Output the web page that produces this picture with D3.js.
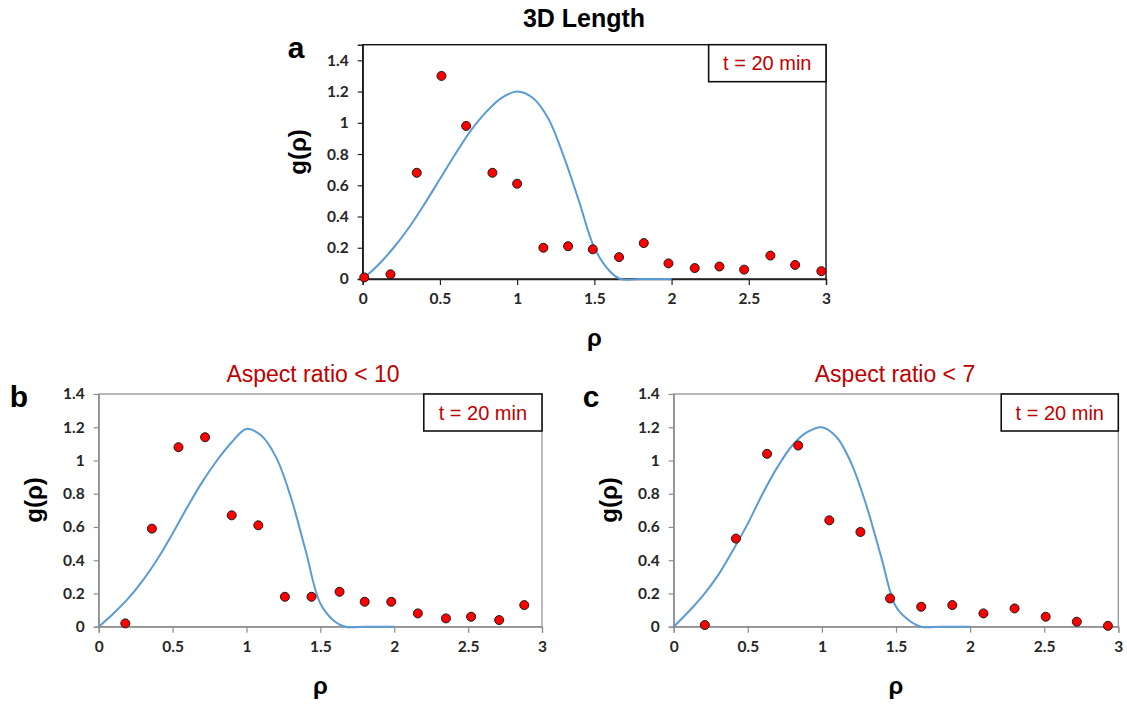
<!DOCTYPE html>
<html>
<head>
<meta charset="utf-8">
<script src="https://cdn.jsdelivr.net/npm/d3@7/dist/d3.min.js"></script>
<style>
  body { margin: 0; background: #fff; }
</style>
</head>
<body>
<svg id="chart" width="1127" height="706"></svg>
<script>
// axis ticks
var xTicks = [0, 0.5, 1, 1.5, 2, 2.5, 3];
var xTickLabels = ["0", "0.5", "1", "1.5", "2", "2.5", "3"];
var yTicks = [0, 0.2, 0.4, 0.6, 0.8, 1, 1.2, 1.4];
var yTickLabels = ["0", "0.2", "0.4", "0.6", "0.8", "1", "1.2", "1.4"];

// measured points, panel a (3D length)
var rhoA = [0.01, 0.18, 0.35, 0.51, 0.67, 0.84, 1.00, 1.17, 1.33, 1.49, 1.66, 1.82, 1.98, 2.15, 2.31, 2.47, 2.64, 2.80, 2.97];
var gA   = [0.01, 0.03, 0.68, 1.30, 0.98, 0.68, 0.61, 0.20, 0.21, 0.19, 0.14, 0.23, 0.10, 0.07, 0.08, 0.06, 0.15, 0.09, 0.05];
// panel b (aspect ratio < 10)
var rhoB = [0.18, 0.36, 0.54, 0.72, 0.90, 1.08, 1.26, 1.44, 1.63, 1.80, 1.98, 2.16, 2.35, 2.52, 2.71, 2.88];
var gB   = [0.02, 0.59, 1.08, 1.14, 0.67, 0.61, 0.18, 0.18, 0.21, 0.15, 0.15, 0.08, 0.05, 0.06, 0.04, 0.13];
// panel c (aspect ratio < 7)
var rhoC = [0.21, 0.42, 0.63, 0.84, 1.05, 1.26, 1.46, 1.67, 1.88, 2.09, 2.30, 2.51, 2.72, 2.93];
var gC   = [0.01, 0.53, 1.04, 1.09, 0.64, 0.57, 0.17, 0.12, 0.13, 0.08, 0.11, 0.06, 0.03, 0.005];

// reference curve
var curveRho = [0, 0.1, 0.2, 0.3, 0.4, 0.5, 0.6, 0.7, 0.8, 0.9, 1.0, 1.1, 1.2, 1.3, 1.4, 1.5, 1.6, 1.67, 1.8, 1.9, 2.0];
var curveA = [0, 0.09, 0.20, 0.33, 0.48, 0.64, 0.80, 0.95, 1.07, 1.16, 1.20, 1.16, 1.03, 0.79, 0.50, 0.20, 0.05, 0, 0, 0, 0];
var curveB = [0, 0.08, 0.17, 0.28, 0.41, 0.56, 0.72, 0.87, 1.00, 1.11, 1.19, 1.15, 1.02, 0.78, 0.46, 0.14, 0.03, 0, 0, 0, 0];
var curveC = [0, 0.09, 0.19, 0.31, 0.46, 0.62, 0.80, 0.96, 1.09, 1.17, 1.20, 1.14, 0.98, 0.73, 0.42, 0.12, 0.03, 0, 0, 0, 0];

var svg = d3.select("#chart");
svg.append("rect").attr("width", 1127).attr("height", 706).attr("fill", "#fff");

var RED = "#c00000";

function drawPanel(p) {
    var x = d3.scaleLinear().domain([0, 3]).range([p.left, p.right]);
    var y = d3.scaleLinear().domain([0, p.yMax]).range([p.bottom, p.top]);

    // frame
    svg.append("rect")
        .attr("x", p.left).attr("y", p.top)
        .attr("width", p.right - p.left).attr("height", p.bottom - p.top)
        .attr("fill", "none")
        .attr("stroke", p.frame)
        .attr("stroke-width", p.frameW);

    var xAxis = d3.axisBottom(x).tickValues(xTicks)
        .tickFormat(function (d, i) { return xTickLabels[i]; })
        .tickSize(6).tickPadding(8);
    var yAxis = d3.axisLeft(y).tickValues(yTicks)
        .tickFormat(function (d, i) { return yTickLabels[i]; })
        .tickSize(5).tickPadding(9);

    var gx = svg.append("g").attr("transform", "translate(0," + p.bottom + ")").call(xAxis);
    var gy = svg.append("g").attr("transform", "translate(" + p.left + ",0)").call(yAxis);
    [gx, gy].forEach(function (g) {
        g.attr("font-size", null).attr("font-family", null);
        g.select(".domain").attr("stroke", p.axis).attr("stroke-width", p.frameW);
        g.selectAll(".tick line").attr("stroke", p.axis).attr("stroke-width", 1.2);
        g.selectAll(".tick text")
            .style("font-family", "Lato, 'Open Sans', sans-serif")
            .style("font-weight", "700")
            .style("font-size", "15.5px")
            .attr("fill", "#262626");
    });

    // curve
    var line = d3.line()
        .x(function (d, i) { return x(curveRho[i]); })
        .y(function (d) { return y(d); })
        .curve(d3.curveCatmullRom.alpha(0.5));
    svg.append("path")
        .datum(p.curve)
        .attr("d", line)
        .attr("fill", "none")
        .attr("stroke", "#5b9bd5")
        .attr("stroke-width", 2);

    // points
    svg.append("g").selectAll("circle")
        .data(p.rho)
        .enter().append("circle")
        .attr("cx", function (d) { return x(d); })
        .attr("cy", function (d, i) { return y(p.g[i]); })
        .attr("r", 4.5)
        .attr("fill", "#ff0000")
        .attr("stroke", "#1a1a1a")
        .attr("stroke-width", 1);

    // legend box
    var lx = x(p.legendFrom);
    svg.append("rect")
        .attr("x", lx).attr("y", p.top)
        .attr("width", p.right - lx).attr("height", 37)
        .attr("fill", "#fff")
        .attr("stroke", "#111")
        .attr("stroke-width", 1.6);
    svg.append("text")
        .attr("x", (lx + p.right) / 2).attr("y", p.top + 18.5 + 7.2)
        .attr("text-anchor", "middle")
        .style("font-family", "'Liberation Sans', Arial, sans-serif")
        .style("font-size", "20px")
        .attr("fill", RED)
        .text("t = 20 min");

    // axis titles
    svg.append("text")
        .attr("transform", "translate(" + (p.left - 57) + "," + (p.yLabelMid) + ") rotate(-90)")
        .attr("text-anchor", "middle")
        .style("font-family", "'Liberation Sans', Arial, sans-serif")
        .style("font-weight", "bold")
        .style("font-size", "24px")
        .attr("fill", "#000")
        .text("g(ρ)");
    svg.append("text")
        .attr("x", (p.left + p.right) / 2).attr("y", p.bottom + 67)
        .attr("text-anchor", "middle")
        .style("font-family", "'Liberation Sans', Arial, sans-serif")
        .style("font-weight", "bold")
        .style("font-size", "24px")
        .attr("fill", "#000")
        .text("ρ");

    // panel letter
    svg.append("text")
        .attr("x", p.letterX).attr("y", p.letterY)
        .attr("text-anchor", "middle")
        .style("font-family", "'Liberation Sans', Arial, sans-serif")
        .style("font-weight", "bold")
        .style("font-size", "30px")
        .attr("fill", "#000")
        .text(p.letter);

    // title
    svg.append("text")
        .attr("x", p.titleX).attr("y", p.titleY)
        .attr("text-anchor", "middle")
        .style("font-family", "'Liberation Sans', Arial, sans-serif")
        .style("font-weight", p.titleBold ? "bold" : "normal")
        .style("font-size", p.titleSize + "px")
        .attr("fill", p.titleColor)
        .text(p.title);
}

drawPanel({
    left: 362.7, right: 826, top: 44.7, bottom: 279, yMax: 1.5,
    frame: "#111", axis: "#222", frameW: 1.4,
    rho: rhoA, g: gA, curve: curveA, legendFrom: 2.24,
    yLabelMid: 152, letter: "a", letterX: 296, letterY: 58,
    title: "3D Length", titleX: 584, titleY: 27, titleSize: 25, titleBold: true, titleColor: "#000"
});
drawPanel({
    left: 98.7, right: 542, top: 394, bottom: 626.7, yMax: 1.4,
    frame: "#8c8c8c", axis: "#8c8c8c", frameW: 1.2,
    rho: rhoB, g: gB, curve: curveB, legendFrom: 2.20,
    yLabelMid: 500, letter: "b", letterX: 19, letterY: 407,
    title: "Aspect ratio < 10", titleX: 313, titleY: 382, titleSize: 23, titleBold: false, titleColor: RED
});
drawPanel({
    left: 673.7, right: 1118.3, top: 394, bottom: 626.7, yMax: 1.4,
    frame: "#8c8c8c", axis: "#8c8c8c", frameW: 1.2,
    rho: rhoC, g: gC, curve: curveC, legendFrom: 2.21,
    yLabelMid: 500, letter: "c", letterX: 591, letterY: 407,
    title: "Aspect ratio < 7", titleX: 895, titleY: 382, titleSize: 23, titleBold: false, titleColor: RED
});
</script>
</body>
</html>
